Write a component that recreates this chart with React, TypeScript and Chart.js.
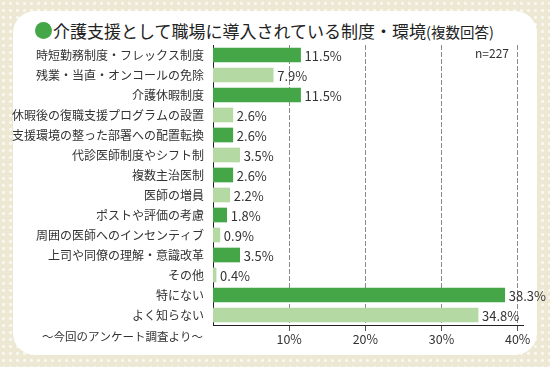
import React, { useEffect, useRef } from "react";
import { Chart, registerables } from "chart.js";

Chart.register(...registerables);

const categories = [
  "時短勤務制度・フレックス制度",
  "残業・当直・オンコールの免除",
  "介護休暇制度",
  "休暇後の復職支援プログラムの設置",
  "支援環境の整った部署への配置転換",
  "代診医師制度やシフト制",
  "複数主治医制",
  "医師の増員",
  "ポストや評価の考慮",
  "周囲の医師へのインセンティブ",
  "上司や同僚の理解・意識改革",
  "その他",
  "特にない",
  "よく知らない",
];
const values = [11.5, 7.9, 11.5, 2.6, 2.6, 3.5, 2.6, 2.2, 1.8, 0.9, 3.5, 0.4, 38.3, 34.8];
const tickValues = [10, 20, 30, 40];
const titleMain = "介護支援として職場に導入されている制度・環境";
const titleSub = "(複数回答)";
const sampleNote = "n=227";
const sourceNote = "〜今回のアンケート調査より〜";

const DARK = "#44a647";
const LIGHT = "#b5d9a2";
const FONT = "'Noto Sans CJK JP', 'Noto Sans', sans-serif";

export default function App() {
  const ref = useRef<HTMLCanvasElement | null>(null);
  useEffect(() => {
    if (!ref.current) return;
    const labelPlugin = {
      id: "valueLabels",
      afterDatasetsDraw(chart: any) {
        const ctx = chart.ctx;
        const meta = chart.getDatasetMeta(0);
        ctx.save();
        ctx.font = `13px ${FONT}`;
        ctx.fillStyle = "#333";
        ctx.textBaseline = "middle";
        ctx.textAlign = "left";
        meta.data.forEach((bar: any, i: number) => {
          ctx.fillText(values[i].toFixed(1) + "%", bar.x + 4, bar.y + 1);
        });
        const area = chart.chartArea;
        ctx.font = `12px ${FONT}`;
        ctx.textAlign = "right";
        ctx.fillText(sampleNote, 509, 53);
        ctx.font = `11.5px ${FONT}`;
        ctx.fillText(sourceNote, 203, area.bottom + 12);
        ctx.restore();
      },
    };
    const chart = new Chart(ref.current, {
      type: "bar",
      data: {
        labels: categories,
        datasets: [
          {
            data: values,
            backgroundColor: values.map((_, i) => (i % 2 === 0 ? DARK : LIGHT)),
            borderWidth: 0,
            barThickness: 14,
          },
        ],
      },
      options: {
        indexAxis: "y",
        responsive: false,
        animation: false,
        layout: { padding: { top: 45, right: 27, left: 0, bottom: 0 } },
        plugins: { legend: { display: false }, tooltip: { enabled: false } },
        scales: {
          x: {
            min: 0,
            max: 40.7,
            afterBuildTicks(scale: any) {
              scale.ticks = tickValues.map((v) => ({ value: v }));
            },
            afterFit(scale: any) {
              scale.height = 42;
            },
            grid: {
              color: "#8a8a8a",
              lineWidth: 1,
              tickLength: 6,
              drawTicks: true,
              tickColor: "#555",
              tickBorderDash: [],
            },
            border: { display: true, color: "#222", width: 1, dash: [5, 2] },
            ticks: {
              padding: 1,
              color: "#333",
              font: { family: FONT, size: 12.5 },
              callback: (v: any) => v + "%",
            },
          },
          y: {
            afterFit(scale: any) {
              scale.width = 213;
            },
            grid: { display: false, drawTicks: false },
            border: { display: true, color: "#222", width: 1 },
            ticks: {
              padding: 9,
              color: "#333",
              font: { family: FONT, size: 12 },
              autoSkip: false,
            },
          },
        },
      },
      plugins: [labelPlugin],
    } as any);
    return () => chart.destroy();
  }, []);

  return (
    <div
      style={{
        position: "fixed",
        left: 0,
        top: 0,
        width: 550,
        height: 367,
        backgroundColor: "#ece8d4",
        backgroundImage: "radial-gradient(#f9f7ef 1.3px, transparent 1.7px)",
        backgroundSize: "7px 7px",
        overflow: "hidden",
      }}
    >
      <div
        style={{
          position: "absolute",
          left: 13,
          top: 11,
          width: 524,
          height: 344,
          background: "#fff",
          borderRadius: 22,
        }}
      />
      <div
        style={{
          position: "absolute",
          left: 35,
          top: 18,
          height: 24,
          display: "flex",
          alignItems: "center",
          fontFamily: FONT,
          color: "#222",
          whiteSpace: "nowrap",
        }}
      >
        <span
          style={{
            display: "inline-block",
            width: 17,
            height: 17,
            borderRadius: "50%",
            background: DARK,
            marginRight: 1,
          }}
        />
        <span style={{ fontSize: 17 }}>{titleMain}</span>
        <span style={{ fontSize: 14.5, marginTop: 2 }}>{titleSub}</span>
      </div>
      <canvas
        ref={ref}
        width={550}
        height={367}
        style={{ position: "absolute", left: 0, top: 0, display: "block" }}
      />
    </div>
  );
}
